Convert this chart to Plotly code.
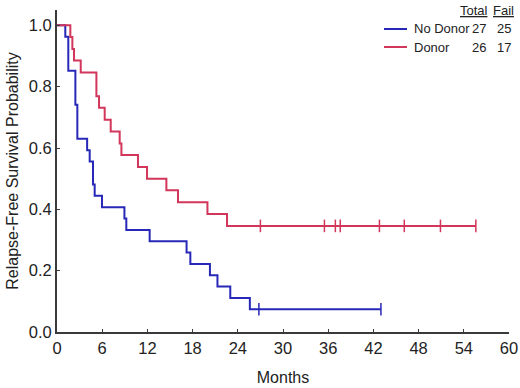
import plotly.graph_objects as go

# ---- data ----
nodonor_t = [0, 1.1, 1.5, 2.44, 2.7, 4.0, 4.34, 4.78, 5.0, 5.97, 8.95, 9.2, 12.3, 17.2, 17.7, 20.3, 21.3, 23.0, 25.6, 43.0]
nodonor_s = [1.0, 0.963, 0.852, 0.741, 0.630, 0.593, 0.556, 0.481, 0.444, 0.407, 0.370, 0.333, 0.296, 0.259, 0.222, 0.185, 0.148, 0.111, 0.074, 0.074]
nodonor_cens_t = [26.8, 43.0]
nodonor_cens_s = [0.074, 0.074]

donor_t = [0, 1.77, 2.04, 2.26, 3.15, 5.23, 5.58, 6.33, 7.13, 8.32, 8.55, 10.75, 11.95, 14.52, 16.06, 19.97, 22.57, 55.6]
donor_s = [1.0, 0.962, 0.923, 0.885, 0.846, 0.769, 0.731, 0.692, 0.654, 0.615, 0.577, 0.538, 0.500, 0.462, 0.423, 0.385, 0.346, 0.346]
donor_cens_t = [27.0, 35.5, 36.95, 37.6, 42.8, 46.1, 50.9, 55.6]
donor_cens_s = [0.346] * 8

groups = ["No Donor", "Donor"]
totals = [27, 26]
fails = [25, 17]

x_ticks = [0, 6, 12, 18, 24, 30, 36, 42, 48, 54, 60]
y_ticks = [0.0, 0.2, 0.4, 0.6, 0.8, 1.0]

BLUE = "#2828b8"
RED = "#d2365a"
FONT = "Liberation Sans, Arial, sans-serif"

W, H = 520, 388
L, R, T, B = 57, 11, 10, 56

def px(x):
    return (x - L) / (W - L - R)

def py(y):
    return (H - B - y) / (H - T - B)

fig = go.Figure()
for t, s, ct, cs, col in [(nodonor_t, nodonor_s, nodonor_cens_t, nodonor_cens_s, BLUE),
                          (donor_t, donor_s, donor_cens_t, donor_cens_s, RED)]:
    fig.add_trace(go.Scatter(x=t, y=s, mode="lines", line=dict(color=col, width=2, shape="hv"),
                             showlegend=False, hoverinfo="skip", cliponaxis=False))
    fig.add_trace(go.Scatter(x=ct, y=cs, mode="markers",
                             marker=dict(symbol="line-ns", size=9, line=dict(color=col, width=1.5)),
                             showlegend=False, hoverinfo="skip", cliponaxis=False))

axis_common = dict(showline=True, linecolor="#3a3a3a", linewidth=2, ticks="inside", ticklen=3,
                   tickcolor="#3a3a3a", showgrid=False, zeroline=False, automargin=False,
                   tickfont=dict(family=FONT, size=16.5, color="#222222"))
fig.update_xaxes(range=[0, 60], tickvals=x_ticks, ticktext=[str(v) for v in x_ticks],
                 title=dict(text="Months", font=dict(family=FONT, size=16, color="#222222"), standoff=16),
                 **axis_common)
fig.update_yaxes(range=[0, 1.05], tickvals=y_ticks, ticktext=[f"{v:.1f}" for v in y_ticks],
                 title=dict(text="Relapse-Free Survival Probability", font=dict(family=FONT, size=16, color="#222222"), standoff=6),
                 **axis_common)

# custom legend table
annots = [
    dict(x=px(474), y=py(10.5), text="<u>Total</u>"),
    dict(x=px(503), y=py(10.5), text="<u>Fail</u>"),
]
shapes = []
for i, (g, tot, fl, col) in enumerate(zip(groups, totals, fails, [BLUE, RED])):
    yy = [29, 47][i]
    shapes.append(dict(type="line", xref="paper", yref="paper", x0=px(384), x1=px(407),
                       y0=py(yy), y1=py(yy), line=dict(color=col, width=2)))
    annots.append(dict(x=px(412), y=py(yy), text=g, xanchor="left"))
    annots.append(dict(x=px(488), y=py(yy), text=str(tot), xanchor="right"))
    annots.append(dict(x=px(513), y=py(yy), text=str(fl), xanchor="right"))
for a in annots:
    a.setdefault("xanchor", "center")
    a.update(xref="paper", yref="paper", yanchor="middle", showarrow=False,
             font=dict(family=FONT, size=13, color="#222222"))

fig.update_layout(width=W, height=H, margin=dict(l=L, r=R, t=T, b=B),
                  paper_bgcolor="white", plot_bgcolor="white",
                  annotations=annots, shapes=shapes)
fig.write_html("out.html", config={"displayModeBar": False},
               post_script="document.body.style.margin='0px';")
